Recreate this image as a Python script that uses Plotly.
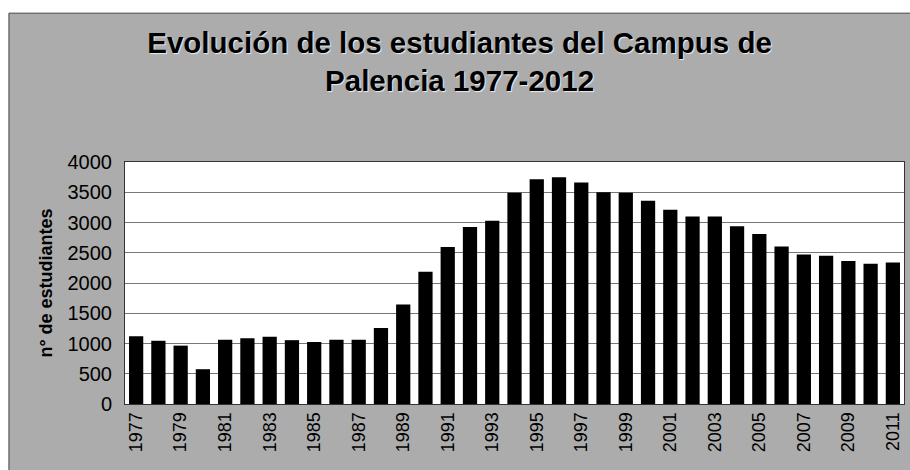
import plotly.graph_objects as go

years = list(range(1977, 2012))
students = [1120, 1045, 965, 575, 1060, 1088, 1110, 1055, 1025, 1060, 1060, 1255,
            1645, 2185, 2595, 2925, 3030, 3490, 3715, 3750, 3660, 3500, 3490, 3360,
            3210, 3100, 3100, 2940, 2810, 2605, 2470, 2450, 2365, 2320, 2340]

title_text = "Evolución de los estudiantes del Campus de<br>Palencia 1977-2012"
y_label = "n° de estudiantes"

fig = go.Figure(data=[
    go.Bar(x=years, y=students, marker=dict(color="black", line=dict(width=0)))
])

# white page strips above and left of the gray scanned chart area
fig.add_shape(type="rect", xref="paper", yref="paper",
              x0=-0.2, x1=1.05, y0=1.615, y1=1.75,
              fillcolor="white", line=dict(width=0), layer="below")
fig.add_shape(type="rect", xref="paper", yref="paper",
              x0=-0.2, x1=-0.149, y0=-0.3, y1=1.75,
              fillcolor="white", line=dict(width=0), layer="below")
fig.add_shape(type="line", xref="paper", yref="paper",
              x0=-0.149, x1=1.05, y0=1.615, y1=1.615,
              line=dict(color="#444444", width=1), layer="below")
fig.add_shape(type="line", xref="paper", yref="paper",
              x0=-0.149, x1=-0.149, y0=-0.3, y1=1.615,
              line=dict(color="#444444", width=1), layer="below")

fig.update_layout(
    width=910, height=470,
    margin=dict(l=125, r=6, t=162, b=66),
    paper_bgcolor="#acacac",
    plot_bgcolor="white",
    bargap=0.36,
    showlegend=False,
    font=dict(family="Liberation Sans, Arial, sans-serif", color="black"),
    title=dict(text="<b>" + title_text + "</b>", xref="container", yref="container",
               x=0.505, y=0.888, xanchor="center", yanchor="middle",
               font=dict(size=29.5, color="black", shadow="1px 1px 1px #eeeeee")),
    xaxis=dict(range=[1976.5, 2011.5], tick0=1977, dtick=2, tickangle=-90,
               tickfont=dict(size=18), showgrid=False, ticks="",
               showline=True, linecolor="#333333", linewidth=1, mirror=True),
    yaxis=dict(range=[0, 4000], dtick=500, tickfont=dict(size=20),
               ticklabelstandoff=8,
               title=dict(text="<b>" + y_label + "</b>", font=dict(size=18), standoff=10),
               showgrid=True, gridcolor="#777777", gridwidth=1, ticks="",
               showline=True, linecolor="#333333", linewidth=1, mirror=True,
               zeroline=False, automargin=False),
)

fig.write_html("out.html", config={"displayModeBar": False},
               post_script="document.body.style.margin='0';")
